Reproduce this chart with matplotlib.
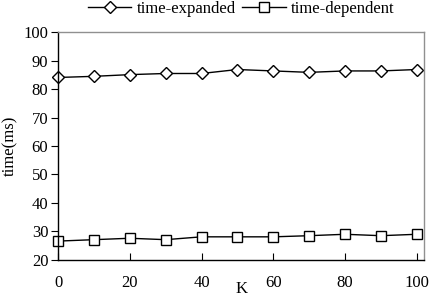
import matplotlib
matplotlib.use('Agg')
import matplotlib.pyplot as plt

# values
k = [0, 10, 20, 30, 40, 50, 60, 70, 80, 90, 100]
time_expanded = [84.1, 84.5, 85.1, 85.5, 85.5, 86.9, 86.4, 85.9, 86.4, 86.4, 86.9]
time_dependent = [26.5, 27.0, 27.5, 27.0, 28.0, 28.0, 28.0, 28.4, 28.9, 28.4, 28.9]
xticks = [0, 20, 40, 60, 80, 100]
yticks = [20, 30, 40, 50, 60, 70, 80, 90, 100]

plt.rcParams['font.family'] = ['Liberation Serif', 'DejaVu Serif']
plt.rcParams['font.size'] = 12

fig = plt.figure(figsize=(4.31, 2.98), dpi=100)
ax = fig.add_axes([0.1346, 0.129, 0.8499, 0.7626])

ax.plot(k, time_expanded, color='black', lw=1.0, marker='D', markersize=6,
        markerfacecolor='white', markeredgecolor='black', markeredgewidth=1.0,
        label='time-expanded')
ax.plot(k, time_dependent, color='black', lw=1.0, marker='s', markersize=7.5,
        markerfacecolor='white', markeredgecolor='black', markeredgewidth=1.0,
        label='time-dependent')

ax.set_xlim(0, 102.1)
ax.set_ylim(20, 100)
ax.set_xticks(xticks)
ax.set_yticks(yticks)
ax.tick_params(axis='x', direction='in', length=5, pad=11)
ax.tick_params(axis='y', direction='out', length=5, pad=2)
for s in ax.spines.values():
    s.set_linewidth(1.0)
ax.spines['top'].set_color('#909090')
ax.spines['right'].set_color('#909090')
for line in ax.lines:
    line.set_clip_on(False)

ax.set_xlabel('K', labelpad=-7)
ax.set_ylabel('time(ms)', labelpad=4)

ax.legend(loc='lower center', bbox_to_anchor=(0.5, 1.025), ncol=2, frameon=False,
          handlelength=2.6, handletextpad=0.3, columnspacing=0.4, borderpad=0.1)

fig.savefig('out.png', dpi=100)
